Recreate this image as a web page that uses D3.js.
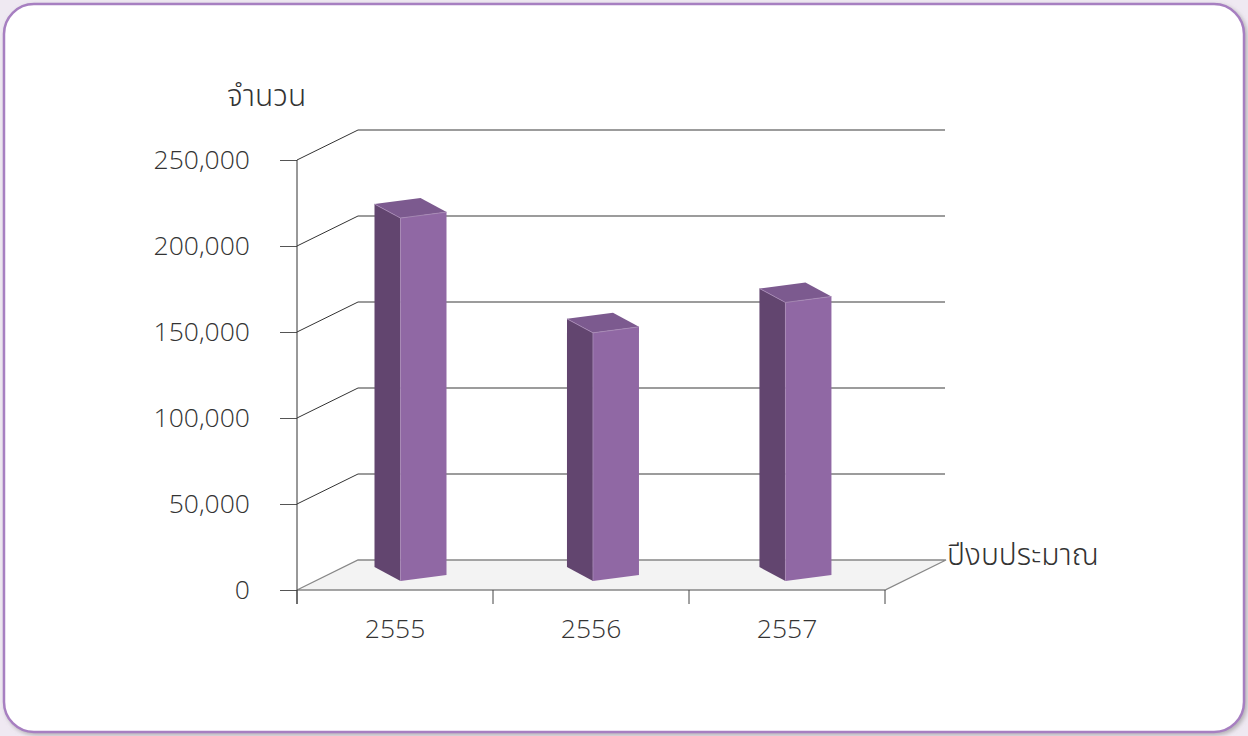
<!DOCTYPE html>
<html>
<head>
<meta charset="utf-8">
<script src="https://cdn.jsdelivr.net/npm/d3@7"></script>
<style>
  html, body { margin: 0; padding: 0; background: #efe9f2; }
  svg { display: block; }
  text { font-family: "Open Sans", "Noto Sans Thai", "Noto Sans", "DejaVu Sans", sans-serif; fill: #333; }
</style>
</head>
<body>
<svg id="chart" width="1248" height="736"></svg>
<script>
const categories = ["2555", "2556", "2557"];
const values = [215000, 147000, 165000];
const yTicks = [0, 50000, 100000, 150000, 200000, 250000];
const yTitle = "จำนวน";
const xTitle = "ปีงบประมาณ";

const svg = d3.select("#chart");

// card
const defs = svg.append("defs");
const f = defs.append("filter").attr("id", "sh").attr("x", "-5%").attr("y", "-5%").attr("width", "110%").attr("height", "110%");
f.append("feDropShadow").attr("dx", 2).attr("dy", 2).attr("stdDeviation", 2).attr("flood-color", "#888").attr("flood-opacity", 0.6);
svg.append("rect").attr("x", 4).attr("y", 4).attr("width", 1240).attr("height", 728)
  .attr("rx", 30).attr("ry", 30).attr("fill", "#fff").attr("stroke", "#a77fc1").attr("stroke-width", 2.5)
  .attr("filter", "url(#sh)");

const y = d3.scaleLinear().domain([0, 250000]).range([590, 160]);
const x = d3.scaleBand().domain(categories).range([297, 885]);
const yb = d3.scaleLinear().domain([0, 250000]).range([581, 159]);
const DX = 61, DY = -30;
const xBackEnd = 945;

const g = svg.append("g");

// floor
g.append("path")
  .attr("d", `M${x.range()[0]},${y(0)} L${x.range()[1]},${y(0)} L${x.range()[1] + DX},${y(0) + DY} L${x.range()[0] + DX},${y(0) + DY} Z`)
  .attr("fill", "#f3f3f3").attr("stroke", "#888").attr("stroke-width", 1.3);

// grid lines: diagonal on side wall and horizontal on back wall
yTicks.forEach(t => {
  const yy = y(t);
  if (t !== 0) {
    g.append("line").attr("x1", 297).attr("y1", yy).attr("x2", 297 + DX).attr("y2", yy + DY)
      .attr("stroke", "#333").attr("stroke-width", 1);
    g.append("line").attr("x1", 297 + DX).attr("y1", yy + DY).attr("x2", xBackEnd).attr("y2", yy + DY)
      .attr("stroke", "#3a3a3a").attr("stroke-width", 1.2);
  }
});

const fontCss = "'Open Sans', sans-serif";
// y axis
const yAxis = d3.axisLeft(y).tickValues(yTicks).tickSize(17).tickPadding(30).tickFormat(d3.format(","));
const ya = svg.append("g").attr("transform", "translate(297,0)").call(yAxis);
ya.select(".domain").remove();
ya.append("line").attr("x1", 0).attr("x2", 0).attr("y1", y(250000)).attr("y2", y(0) + 14).attr("stroke", "#333");
ya.selectAll(".tick line").attr("stroke", "#555");
ya.selectAll(".tick text").attr("font-size", 26.5).attr("font-weight", 300).attr("fill", "#222")
  .attr("font-family", fontCss);

// x axis
const xAxis = d3.axisBottom(x).tickSize(0).tickPadding(29);
const xa = svg.append("g").attr("transform", `translate(0,${y(0)})`).call(xAxis);
xa.select(".domain").remove();
xa.selectAll(".tick text").attr("font-size", 26.5).attr("font-weight", 300).attr("fill", "#222")
  .attr("font-family", fontCss);
// x tick marks at band boundaries
const bounds = categories.map(c => x(c)).concat([x.range()[1]]);
xa.selectAll(".bnd").data(bounds).join("line").attr("class", "bnd")
  .attr("x1", d => d).attr("x2", d => d).attr("y1", 0).attr("y2", 14).attr("stroke", "#444");

// bars
const bars = svg.append("g");
categories.forEach((c, i) => {
  const cx = x(c) + x.bandwidth() / 2;
  const fx = cx + 5.5 - (cx - x(categories[0]) - x.bandwidth() / 2) * 0.018; // slight perspective shift
  const top = yb(values[i]);
  const bot = yb(0);
  const w = 46, s = 6, sx = 26, sy = 14, bx = 20, by = 20;
  bars.append("path")
    .attr("d", `M${fx - sx},${top - sy} L${fx},${top} L${fx},${bot} L${fx - sx},${bot - sy} Z`)
    .attr("fill", "#62456f");
  bars.append("path")
    .attr("d", `M${fx},${top} L${fx + w},${top - s} L${fx + w},${bot - s} L${fx},${bot} Z`)
    .attr("fill", "#9068a4");
  bars.append("path")
    .attr("d", `M${fx - sx},${top - sy} L${fx + bx},${top - by} L${fx + w},${top - s} L${fx},${top} Z`)
    .attr("fill", "#7c5a8f");
  bars.append("path")
    .attr("d", `M${fx - sx},${top - sy} L${fx},${top} L${fx + w},${top - s} M${fx},${top} L${fx},${bot}`)
    .attr("fill", "none").attr("stroke", "#a98bb8").attr("stroke-width", 0.8);
});

// titles
svg.append("text").attr("x", 227).attr("y", 98).attr("dominant-baseline", "middle")
  .attr("font-size", 30).attr("font-weight", 300).attr("fill", "#333").text(yTitle);
svg.append("text").attr("x", 947).attr("y", 557).attr("dominant-baseline", "middle")
  .attr("font-size", 30).attr("font-weight", 300).attr("fill", "#333").text(xTitle);
</script>
</body>
</html>
